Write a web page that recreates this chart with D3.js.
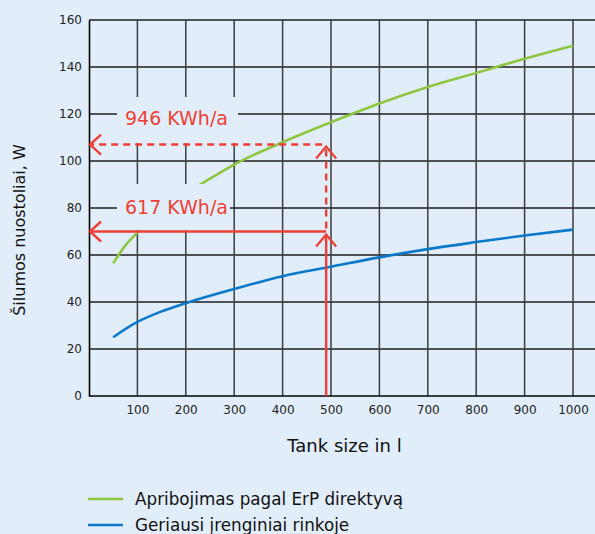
<!DOCTYPE html>
<html>
<head>
<meta charset="utf-8">
<script src="https://cdn.jsdelivr.net/npm/d3@7"></script>
<style>
  body { margin: 0; background: #e1edf8; }
  svg { display: block; }
  svg text { font-family: "DejaVu Sans", sans-serif; }
</style>
</head>
<body>
<div id="chart"></div>
<script>
// tank size (l) and standing losses (W)
var erpSizes = [50, 75, 100, 150, 200, 250, 300, 400, 500, 600, 700, 800, 900, 1000];
var erpLoss = [56.5, 64, 69.5, 78.5, 86, 92.5, 98.5, 108, 116.5, 124.5, 131.5, 137.5, 143.5, 149];
var bestSizes = [50, 100, 150, 200, 300, 400, 500, 600, 700, 800, 900, 1000];
var bestLoss = [25, 31.5, 36, 39.5, 45.5, 51, 55, 59, 62.5, 65.5, 68.3, 70.8];

var xTicks = [100, 200, 300, 400, 500, 600, 700, 800, 900, 1000];
var yTicks = [0, 20, 40, 60, 80, 100, 120, 140, 160];

var markSize = 490;
var markHigh = 107;   // 946 KWh/a
var markLow = 70;     // 617 KWh/a

var seriesNames = ["Apribojimas pagal ErP direktyvą", "Geriausi įrenginiai rinkoje"];
var seriesColors = ["#8dc641", "#0a79c9"];
var bg = "#e1edf8";
var red = "#ee3f36";

var width = 595, height = 534;

var x = d3.scaleLinear().domain([0, 1000]).range([89, 573]);
var y = d3.scaleLinear().domain([0, 160]).range([396, 20]);

var svg = d3.select("#chart").append("svg")
  .attr("width", width).attr("height", height);

svg.append("rect").attr("width", width).attr("height", height).attr("fill", bg);

// grid
svg.append("g").selectAll("line").data(yTicks.slice(1)).enter().append("line")
  .attr("x1", x(0)).attr("x2", width + 5)
  .attr("y1", function(d) { return y(d); }).attr("y2", function(d) { return y(d); })
  .attr("stroke", "#1e1e1e").attr("stroke-width", 1.4);

svg.append("g").selectAll("line").data(xTicks).enter().append("line")
  .attr("x1", function(d) { return x(d); }).attr("x2", function(d) { return x(d); })
  .attr("y1", y(160)).attr("y2", y(0))
  .attr("stroke", "#3a3d40").attr("stroke-width", 1.5);

// axes
var xAxis = svg.append("g").attr("transform", "translate(0," + y(0) + ")")
  .call(d3.axisBottom(x).tickValues(xTicks).tickFormat(d3.format("d")).tickSize(0).tickPadding(9));
xAxis.select(".domain").attr("stroke", "#000").attr("stroke-width", 1.6).attr("d", "M" + x(0) + ",0H" + (width + 5));
xAxis.selectAll("text").attr("font-size", 12).attr("fill", "#222");

var yAxis = svg.append("g").attr("transform", "translate(" + x(0) + ",0)")
  .call(d3.axisLeft(y).tickValues(yTicks).tickSize(0).tickPadding(7));
yAxis.select(".domain").attr("stroke", "#000").attr("stroke-width", 1.6);
yAxis.selectAll("text").attr("font-size", 12).attr("fill", "#222");

// curves
var line = d3.line().curve(d3.curveMonotoneX)
  .x(function(d) { return x(d[0]); }).y(function(d) { return y(d[1]); });

svg.append("path").datum(d3.zip(erpSizes, erpLoss))
  .attr("d", line).attr("fill", "none").attr("stroke", seriesColors[0]).attr("stroke-width", 2.6);
svg.append("path").datum(d3.zip(bestSizes, bestLoss))
  .attr("d", line).attr("fill", "none").attr("stroke", seriesColors[1]).attr("stroke-width", 2.6);

// label boxes hide grid and curve behind them
svg.append("rect").attr("x", 117).attr("y", 97).attr("width", 121).attr("height", y(markHigh) - 97 - 1.5).attr("fill", bg);
svg.append("rect").attr("x", 117).attr("y", 184).attr("width", 113).attr("height", y(markLow) - 184 - 1.5).attr("fill", bg);

svg.append("text").attr("x", 125).attr("y", 125).attr("font-size", 19).attr("fill", red).text("946 KWh/a");
svg.append("text").attr("x", 125).attr("y", 214).attr("font-size", 19).attr("fill", red).text("617 KWh/a");

// red arrows
var arrows = svg.append("g").attr("stroke", red).attr("stroke-width", 2.4).attr("fill", "none");
arrows.append("line").attr("x1", x(markSize) - 4).attr("x2", x(0) + 1)
  .attr("y1", y(markHigh)).attr("y2", y(markHigh)).attr("stroke-dasharray", "7,5");
arrows.append("line").attr("x1", x(markSize)).attr("x2", x(markSize))
  .attr("y1", y(markLow) - 3).attr("y2", y(markHigh) + 3).attr("stroke-dasharray", "7,5");
arrows.append("line").attr("x1", x(markSize)).attr("x2", x(0) + 1)
  .attr("y1", y(markLow)).attr("y2", y(markLow));
arrows.append("line").attr("x1", x(markSize)).attr("x2", x(markSize))
  .attr("y1", y(0)).attr("y2", y(markLow) + 3);

function leftHead(yy) {
  arrows.append("path").attr("d", "M" + (x(0) + 12) + "," + (yy - 10) + "L" + (x(0) + 1) + "," + yy + "L" + (x(0) + 12) + "," + (yy + 10));
}
function upHead(yy) {
  var xx = x(markSize);
  arrows.append("path").attr("d", "M" + (xx - 10) + "," + (yy + 12) + "L" + xx + "," + yy + "L" + (xx + 10) + "," + (yy + 12));
}
leftHead(y(markHigh));
leftHead(y(markLow));
upHead(y(markHigh) + 2);
upHead(y(markLow) + 3);

// axis titles
svg.append("text").attr("x", 344.5).attr("y", 452).attr("text-anchor", "middle")
  .attr("font-size", 18).attr("fill", "#111").text("Tank size in l");
svg.append("text").attr("transform", "translate(25,230) rotate(-90)").attr("text-anchor", "middle")
  .attr("font-size", 16).attr("fill", "#111").text("Šilumos nuostoliai, W");

// legend
var legend = svg.append("g").selectAll("g").data(seriesNames).enter().append("g")
  .attr("transform", function(d, i) { return "translate(88," + (499 + i * 26) + ")"; });
legend.append("line").attr("x1", 0).attr("x2", 35).attr("y1", 0).attr("y2", 0)
  .attr("stroke", function(d, i) { return seriesColors[i]; }).attr("stroke-width", 2.6);
legend.append("text").attr("x", 47).attr("y", 6).attr("font-size", 16.8).attr("fill", "#111")
  .text(function(d) { return d; });
</script>
</body>
</html>
